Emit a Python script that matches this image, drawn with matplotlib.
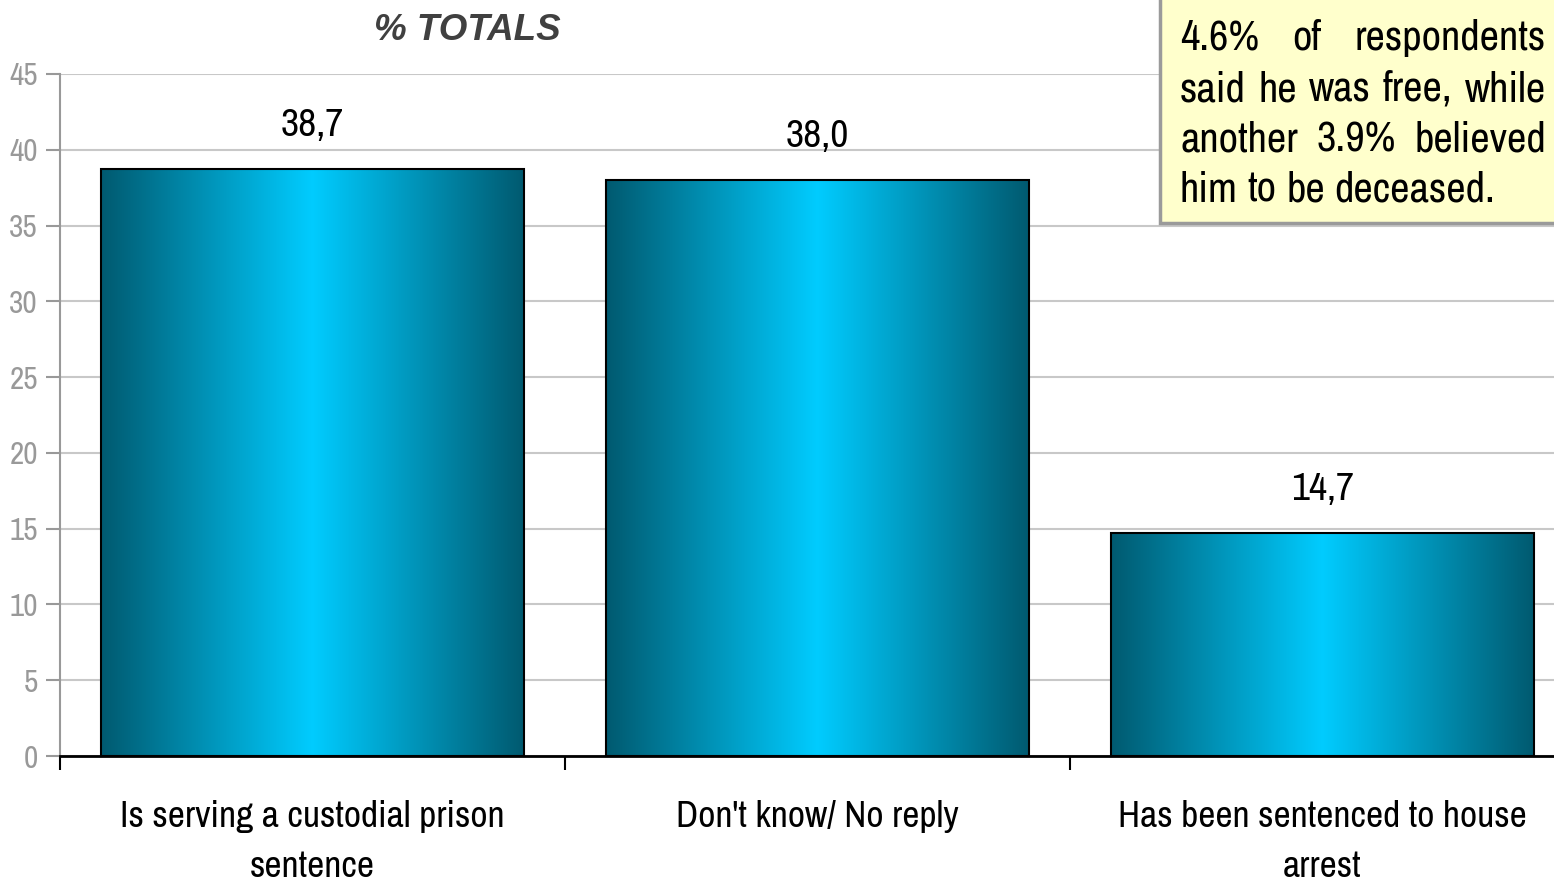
import matplotlib
matplotlib.use("Agg")
import matplotlib.pyplot as plt
import numpy as np
from matplotlib.colors import LinearSegmentedColormap
from matplotlib.patches import Rectangle
from matplotlib import font_manager

categories = ["Is serving a custodial prison\nsentence", "Don't know/ No reply",
              "Has been sentenced to house\narrest"]
values = [38.7, 38.0, 14.7]
value_labels = ["38,7", "38,0", "14,7"]
yticks = [0, 5, 10, 15, 20, 25, 30, 35, 40, 45]
title = "% TOTALS"
note_lines = [["4.6%", "of", "respondents"],
              ["said", "he", "was", "free,", "while"],
              ["another", "3.9%", "believed"],
              ["him", "to", "be", "deceased."]]

names = {f.name for f in font_manager.fontManager.ttflist}
narrow = "Liberation Sans"
for cand in ["Liberation Sans Narrow", "Arial Narrow", "Archivo Narrow", "Roboto Condensed",
             "PT Sans Narrow", "Pragati Narrow", "Open Sans Condensed"]:
    if cand in names:
        narrow = cand
        break
plt.rcParams['font.family'] = [narrow, 'DejaVu Sans']

W, H = 1554, 882
fig = plt.figure(figsize=(W / 100, H / 100), dpi=100)
ax = fig.add_axes([60 / W, 1 - 756 / H, 1515 / W, (756 - 74) / H])

x = np.arange(len(categories))
bars = ax.bar(x, values, width=0.836, facecolor='none', edgecolor='black', linewidth=1.5, zorder=3)

cmap = LinearSegmentedColormap.from_list('g', [(0, '#005a70'), (0.5, '#00ccff'), (1, '#005a70')])
grad = np.linspace(0, 1, 256).reshape(1, -1)
for i, b in enumerate(bars):
    x0, w, h = b.get_x(), b.get_width(), b.get_height()
    im = ax.imshow(grad, cmap=cmap, extent=[x0, x0 + w, 0, h], aspect='auto', zorder=2,
                   interpolation='bilinear')
    im.set_clip_path(b)
    ax.text(x0 + w / 2, h + 1.75, value_labels[i], ha='center', va='bottom',
            fontsize=28.5, color='black')

ax.set_xlim(-0.5, 2.5)
ax.set_ylim(0, 45)
ax.set_yticks(yticks)
ax.yaxis.grid(True, color='#c8c8c8', linewidth=1.5, zorder=0)
ax.set_axisbelow(True)
ax.tick_params(axis='y', colors='#999999', labelsize=22.5, length=10, width=1.5, pad=6)
ax.set_xticks(x)
ax.set_xticklabels(categories, fontsize=27, linespacing=1.6)
ax.set_xticks([-0.5, 0.5, 1.5], minor=True)
ax.tick_params(axis='x', which='major', length=0, pad=32)
ax.tick_params(axis='x', which='minor', length=10, width=1.5, color='black')
for s in ['top', 'right']:
    ax.spines[s].set_visible(False)
ax.spines['left'].set_color('#999999')
ax.spines['left'].set_linewidth(1.5)
ax.spines['bottom'].set_color('black')
ax.spines['bottom'].set_linewidth(2)
ax.spines['bottom'].set_zorder(4)

fig.text(467 / W, 1 - 31 / H, title, ha='center', va='center', fontsize=26.5,
         fontweight='bold', fontstyle='italic', color='#404040', family='Liberation Sans')

# note box
box = Rectangle((1160 / W, 1 - 223 / H), (W - 1160 + 10) / W, 240 / H, transform=fig.transFigure,
                facecolor='#ffffcc', edgecolor='#9a9a9a', linewidth=2.5, zorder=5)
fig.add_artist(box)

renderer = fig.canvas.get_renderer()
left_px, right_px = 1180, 1546
baselines = [50, 101, 152, 202]
fs = 30.5
for li, (words, base) in enumerate(zip(note_lines, baselines)):
    texts = [fig.text(0, 1 - base / H, w, fontsize=fs, va='baseline', ha='left', zorder=6)
             for w in words]
    widths = [t.get_window_extent(renderer).width for t in texts]
    if li == len(note_lines) - 1:
        t1 = fig.text(0, 0, "a b", fontsize=fs)
        t2 = fig.text(0, 0, "ab", fontsize=fs)
        gap = t1.get_window_extent(renderer).width - t2.get_window_extent(renderer).width
        t1.remove()
        t2.remove()
    else:
        gap = (right_px - left_px - sum(widths)) / (len(words) - 1)
    pos = left_px
    for t, wd in zip(texts, widths):
        t.set_x(pos / W)
        pos += wd + gap

fig.savefig("out.png", dpi=100)
